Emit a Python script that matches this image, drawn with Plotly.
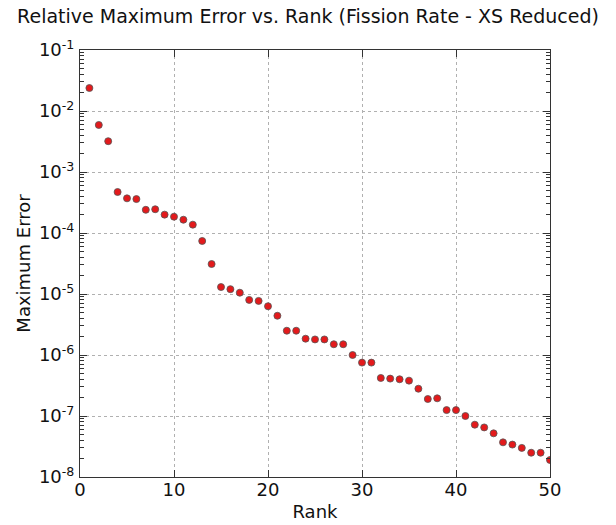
import plotly.graph_objects as go

rank = list(range(1, 51))
max_error = [
    2.38e-2, 5.9e-3, 3.2e-3, 4.7e-4, 3.7e-4, 3.6e-4, 2.4e-4, 2.45e-4, 2.0e-4, 1.85e-4,
    1.65e-4, 1.37e-4, 7.4e-5, 3.1e-5, 1.3e-5, 1.2e-5, 1.05e-5, 8.0e-6, 7.7e-6, 6.3e-6,
    4.4e-6, 2.5e-6, 2.5e-6, 1.85e-6, 1.8e-6, 1.8e-6, 1.5e-6, 1.5e-6, 1.0e-6, 7.5e-7,
    7.5e-7, 4.2e-7, 4.1e-7, 4.0e-7, 3.8e-7, 2.8e-7, 1.9e-7, 1.95e-7, 1.25e-7, 1.25e-7,
    1.0e-7, 7.2e-8, 6.5e-8, 5.2e-8, 3.7e-8, 3.4e-8, 3.0e-8, 2.5e-8, 2.5e-8, 1.9e-8,
]
y_exponents = [-8, -7, -6, -5, -4, -3, -2, -1]
y_tick_vals = [10.0 ** e for e in y_exponents]
y_tick_text = ["10<sup>%d</sup>" % e for e in y_exponents]

font = "DejaVu Sans"
fig = go.Figure(go.Scatter(
    x=rank, y=max_error, mode="markers",
    marker=dict(color="#e31a1c", size=7, line=dict(color="#555555", width=0.8)),
))

axis_common = dict(
    showline=True, linecolor="#333333", linewidth=1, mirror="allticks",
    ticks="inside", ticklen=7, tickcolor="#333333",
    showgrid=True, gridcolor="#b0b0b0", griddash="dot", gridwidth=1,
    zeroline=False, automargin=False,
)

fig.update_xaxes(range=[0, 50], dtick=10, ticklabelstandoff=-4,
                 tickfont=dict(size=18, family=font, color="#111111"),
                 title=dict(text="Rank", font=dict(size=18, family=font, color="#111111"), standoff=6),
                 **axis_common)
fig.update_yaxes(type="log", range=[-8, -1], tickmode="array", tickvals=y_tick_vals, ticktext=y_tick_text,
                 ticklabelstandoff=1,
                 tickfont=dict(size=18, family=font, color="#111111"),
                 minor=dict(ticks="inside", ticklen=4, tickcolor="#333333", showgrid=False, dtick="D1"),
                 title=dict(text="Maximum Error", font=dict(size=18, family=font, color="#111111"), standoff=3),
                 **axis_common)

fig.update_layout(
    width=616, height=525,
    margin=dict(l=80, r=66, t=50, b=48),
    paper_bgcolor="white", plot_bgcolor="white",
    showlegend=False,
    title=dict(text="Relative Maximum Error vs. Rank (Fission Rate - XS Reduced)",
               x=0.5, xanchor="center", y=0.968, yanchor="middle",
               font=dict(size=19, family=font, color="#111111")),
)

fig.write_html("out.html")
